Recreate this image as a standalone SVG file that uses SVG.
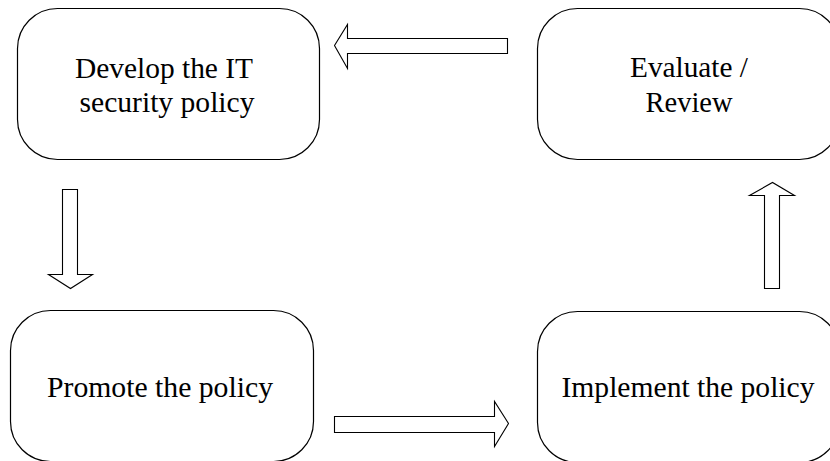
<svg xmlns="http://www.w3.org/2000/svg" width="830" height="461" viewBox="0 0 830 461">
  <style>
    .box { fill: #ffffff; stroke: #000000; stroke-width: 1.2; }
    .arrow { fill: #ffffff; stroke: #000000; stroke-width: 1.1; stroke-linejoin: miter; }
    .label { font-family: "Liberation Serif", "Times New Roman", serif; font-size: 30px; fill: #000000; text-anchor: middle; }
  </style>
  <rect width="830" height="461" fill="#ffffff"/>

  <g id="develop">
    <rect class="box" x="17.5" y="8.5" width="302" height="151" rx="40" ry="40"/>
    <text class="label" x="164" y="78" textLength="178" lengthAdjust="spacingAndGlyphs">Develop the IT</text>
    <text class="label" x="167" y="112" textLength="175" lengthAdjust="spacingAndGlyphs">security policy</text>
  </g>

  <g id="evaluate">
    <rect class="box" x="537.5" y="8.5" width="302" height="151" rx="40" ry="40"/>
    <text class="label" x="689" y="77" textLength="118" lengthAdjust="spacingAndGlyphs">Evaluate /</text>
    <text class="label" x="689" y="112" textLength="87" lengthAdjust="spacingAndGlyphs">Review</text>
  </g>

  <g id="promote">
    <rect class="box" x="10.5" y="310.5" width="303" height="151" rx="40" ry="40"/>
    <text class="label" x="160" y="397" textLength="226" lengthAdjust="spacingAndGlyphs">Promote the policy</text>
  </g>

  <g id="implement">
    <rect class="box" x="537.5" y="311.5" width="302" height="151" rx="40" ry="40"/>
    <text class="label" x="688" y="397" textLength="253" lengthAdjust="spacingAndGlyphs">Implement the policy</text>
  </g>

  <g id="connectors">
    <!-- evaluate -> develop -->
    <polygon class="arrow" points="507.5,38.5 347.5,38.5 347.5,24.5 334.5,45.5 347.5,68.5 347.5,53.5 507.5,53.5"/>
    <!-- develop -> promote -->
    <polygon class="arrow" points="62.5,189.5 77.5,189.5 77.5,274.5 92.5,274.5 70.5,288.5 48.5,274.5 62.5,274.5"/>
    <!-- promote -> implement -->
    <polygon class="arrow" points="334.5,416.5 494.5,416.5 494.5,401.5 508.5,423.5 494.5,446.5 494.5,432.5 334.5,432.5"/>
    <!-- implement -> evaluate -->
    <polygon class="arrow" points="764.5,288.5 779.5,288.5 779.5,195.5 794.5,195.5 772.5,182.5 749.5,195.5 764.5,195.5"/>
  </g>
</svg>
